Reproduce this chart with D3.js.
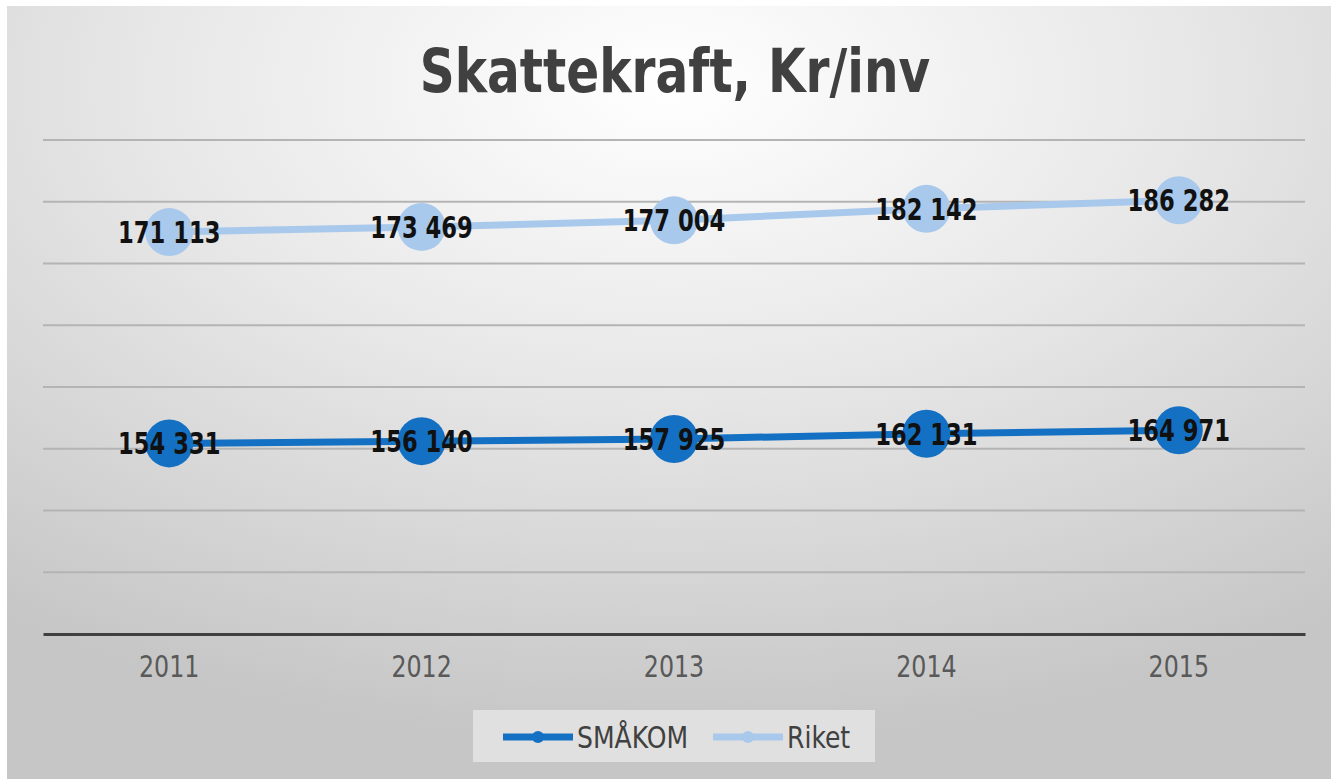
<!DOCTYPE html>
<html>
<head>
<meta charset="utf-8">
<script src="https://cdn.jsdelivr.net/npm/d3@7"></script>
<style>
  body { margin: 0; background: #ffffff; }
  svg { display: block; }
</style>
</head>
<body>
<div id="chart"></div>
<script>
// Data (stacked line chart: Riket sits on top of SMÅKOM)
var years = ["2011", "2012", "2013", "2014", "2015"];
var smakom = [154331, 156140, 157925, 162131, 164971];
var riket = [171113, 173469, 177004, 182142, 186282];
var seriesNames = ["SMÅKOM", "Riket"];
var seriesColors = ["#1470c3", "#a9c9ec"];
var yTicks = [0, 50000, 100000, 150000, 200000, 250000, 300000, 350000, 400000];

var width = 1331,
    height = 779;

var font = "'DejaVu Sans Condensed', 'DejaVu Sans', sans-serif";

var svg = d3.select("#chart")
    .append("svg")
    .attr("width", width)
    .attr("height", height);

// Background gradient

var defs = svg.append("defs");
var grad = defs.append("radialGradient")
    .attr("id", "bg")
    .attr("cx", "50%")
    .attr("cy", "10%")
    .attr("r", "85%");
grad.append("stop").attr("offset", "0%").attr("stop-color", "#ffffff");
grad.append("stop").attr("offset", "45%").attr("stop-color", "#e8e8e8");
grad.append("stop").attr("offset", "100%").attr("stop-color", "#c6c6c6");

svg.append("rect")
    .attr("x", 7)
    .attr("y", 6)
    .attr("width", width - 7)
    .attr("height", height - 6)
    .attr("fill", "url(#bg)");

// Title (squeezed a little, the original font is narrow)

svg.append("text")
    .attr("transform", "translate(675,92) scale(0.9,1)")
    .attr("text-anchor", "middle")
    .attr("font-family", font)
    .attr("font-weight", "bold")
    .attr("font-size", "60px")
    .attr("fill", "#404040")
    .text("Skattekraft, Kr/inv");

// Scales

var x = d3.scaleBand()
    .domain(years)
    .range([43, 1305]);

var y = d3.scaleLinear()
    .domain([0, 400000])
    .range([634, 140]);

// Gridlines

svg.append("g").selectAll("line")
    .data(yTicks.slice(1))
    .enter().append("line")
    .attr("x1", 43)
    .attr("x2", 1305)
    .attr("y1", function(d) { return y(d); })
    .attr("y2", function(d) { return y(d); })
    .attr("stroke", "#b4b4b4")
    .attr("stroke-width", 2);

// X axis

var xAxis = svg.append("g")
    .attr("transform", "translate(0," + y(0) + ")")
    .call(d3.axisBottom(x).tickSize(0).tickPadding(22));
xAxis.select(".domain")
    .attr("stroke", "#404040")
    .attr("stroke-width", 3);
xAxis.selectAll("text")
    .attr("transform", "scale(0.88,1)")
    .attr("font-family", font)
    .attr("font-size", "30px")
    .attr("fill", "#595959");

// Stacked values

var stacked = [
    smakom.map(function(v, i) { return { year: years[i], value: v, top: v }; }),
    riket.map(function(v, i) { return { year: years[i], value: v, top: v + smakom[i] }; })
];

var cx = function(d) { return x(d.year) + x.bandwidth() / 2; };

var line = d3.line()
    .x(cx)
    .y(function(d) { return y(d.top); });

var fmt = function(v) { return d3.format(",")(v).replace(/,/g, " "); };

stacked.forEach(function(s, k) {
    var g = svg.append("g");
    g.append("path")
        .datum(s)
        .attr("d", line)
        .attr("fill", "none")
        .attr("stroke", seriesColors[k])
        .attr("stroke-width", 7);
    g.selectAll("circle")
        .data(s)
        .enter().append("circle")
        .attr("cx", cx)
        .attr("cy", function(d) { return y(d.top); })
        .attr("r", 24)
        .attr("fill", seriesColors[k]);
    g.selectAll("text")
        .data(s)
        .enter().append("text")
        .attr("transform", function(d) {
            return "translate(" + cx(d) + "," + y(d.top) + ") scale(0.84,1)";
        })
        .attr("dy", "0.36em")
        .attr("text-anchor", "middle")
        .attr("font-family", font)
        .attr("font-weight", "bold")
        .attr("font-size", "30px")
        .attr("fill", "#111111")
        .text(function(d) { return fmt(d.value); });
});

// Legend

var legend = svg.append("g");
legend.append("rect")
    .attr("x", 473)
    .attr("y", 710)
    .attr("width", 402)
    .attr("height", 52)
    .attr("fill", "#e6e6e6")
    .attr("opacity", 0.8);

var legendX = [503, 713];
seriesNames.forEach(function(name, k) {
    var lx = legendX[k];
    legend.append("line")
        .attr("x1", lx)
        .attr("x2", lx + 70)
        .attr("y1", 737)
        .attr("y2", 737)
        .attr("stroke", seriesColors[k])
        .attr("stroke-width", 7);
    legend.append("circle")
        .attr("cx", lx + 35)
        .attr("cy", 737)
        .attr("r", 6)
        .attr("fill", seriesColors[k]);
    legend.append("text")
        .attr("transform", "translate(" + (lx + 74) + ",737) scale(0.93,1)")
        .attr("dy", "0.36em")
        .attr("font-family", font)
        .attr("font-size", "30px")
        .attr("fill", "#404040")
        .text(name);
});
</script>
</body>
</html>
